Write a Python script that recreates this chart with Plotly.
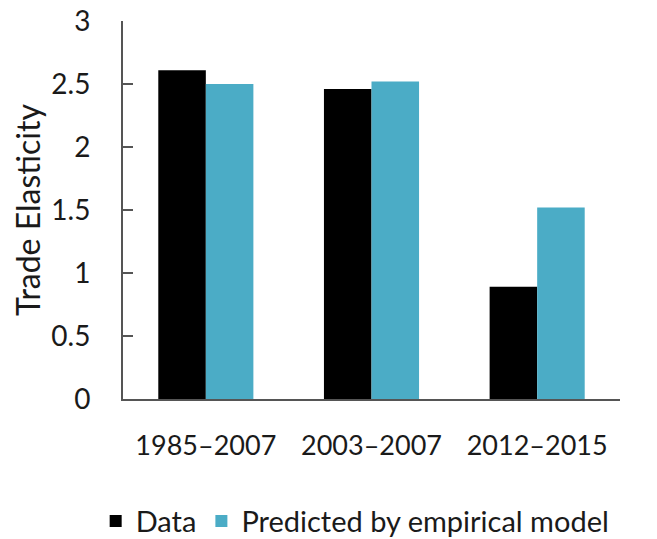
import plotly.graph_objects as go

categories = ["1985–2007", "2003–2007", "2012–2015"]
data_values = [2.61, 2.46, 0.89]
predicted_values = [2.50, 2.52, 1.52]
y_ticks = [0, 0.5, 1, 1.5, 2, 2.5, 3]
y_tick_labels = ["0", "0.5", "1", "1.5", "2", "2.5", "3"]

FONT = "Lato"

fig = go.Figure()
fig.add_trace(go.Bar(x=categories, y=data_values, name="Data",
                     marker=dict(color="#000000", line=dict(width=0))))
fig.add_trace(go.Bar(x=categories, y=predicted_values, name="Predicted by empirical model",
                     marker=dict(color="#4BACC6", line=dict(width=0))))

fig.update_layout(
    width=649, height=531,
    margin=dict(l=115, r=37, t=13, b=140, pad=0, autoexpand=False),
    paper_bgcolor="white", plot_bgcolor="white",
    barmode="group", bargap=0.426, bargroupgap=0,
    font=dict(family=FONT, color="#1a1a1a", size=28),
    showlegend=True,
    legend=dict(orientation="h", xref="paper", yref="paper",
                x=-0.055, xanchor="left", y=-0.323, yanchor="middle",
                font=dict(size=29, family=FONT), itemwidth=30,
                traceorder="normal"),
    xaxis=dict(showline=True, linecolor="#555555", linewidth=2, ticks="",
               tickfont=dict(size=27, family=FONT), showgrid=False, zeroline=False,
               automargin=False, ticklabelstandoff=22, ticklabeloverflow="allow"),
    yaxis=dict(range=[0, 3], tickvals=y_ticks, ticktext=y_tick_labels,
               showline=True, linecolor="#555555", linewidth=2,
               ticks="inside", ticklen=10, tickwidth=2, tickcolor="#555555",
               tickfont=dict(size=28, family=FONT), showgrid=False, zeroline=False,
               automargin=False, ticklabelstandoff=25, ticklabeloverflow="allow",
               title=dict(text="Trade Elasticity", font=dict(size=32, family=FONT), standoff=12)),
)

fig.write_html("out.html")
